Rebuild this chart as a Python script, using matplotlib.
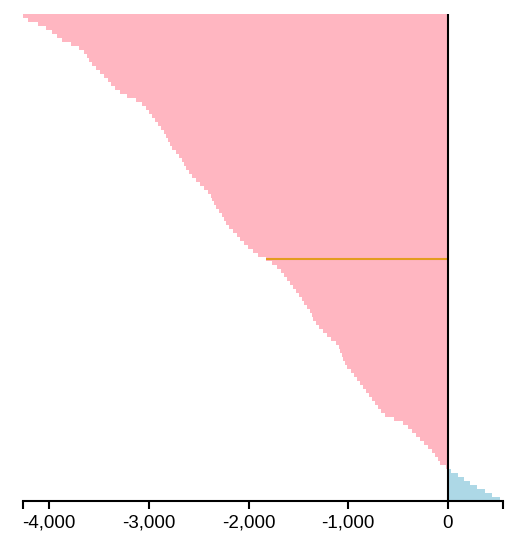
import matplotlib
matplotlib.use("Agg")
import matplotlib.pyplot as plt

values = [-4272,-4212,-4111,-4032,-3972,-3921,-3871,-3781,-3700,-3650,-3621,-3600,-3570,-3530,-3489,-3450,
-3409,-3379,-3340,-3289,-3219,-3128,-3068,-3028,-2998,-2968,-2937,-2908,-2877,-2848,-2827,-2807,-2787,-2767,
-2727,-2697,-2667,-2646,-2627,-2596,-2566,-2526,-2486,-2446,-2406,-2375,-2365,-2346,-2325,-2295,-2265,-2245,
-2225,-2195,-2154,-2115,-2084,-2044,-2004,-1954,-1904,-1824,-1763,-1714,-1673,-1643,-1613,-1583,-1553,-1522,
-1493,-1462,-1442,-1412,-1382,-1362,-1352,-1322,-1292,-1251,-1212,-1171,-1121,-1090,-1081,-1061,-1051,-1030,
-1011,-970,-941,-910,-880,-850,-820,-790,-759,-730,-699,-669,-629,-538,-449,-398,-358,-318,-278,-238,-197,
-158,-127,-98,-77,-20,30,100,160,220,290,370,440,520]
highlight_index = 61
xticks = [-4000, -3000, -2000, -1000, 0]
xticklabels = ["-4,000", "-3,000", "-2,000", "-1,000", "0"]
x_min, x_max = -4261, 552

W, H = 531, 556
fig = plt.figure(figsize=(W/100, H/100), dpi=100)
ax = fig.add_axes([23.3/W, 1-500.7/H, (502.7-23.3)/W, (500.7-14)/H])
n = len(values)
ys = list(range(n))
colors = ["#ffb6c1" if v < 0 else "#add8e6" for v in values]
ax.barh(ys, values, height=1.0, color=colors, linewidth=0)
ax.plot([values[highlight_index], 0], [highlight_index, highlight_index], color="#e39c1f", lw=1.5, solid_capstyle="butt")
ax.set_xlim(x_min, x_max)
ax.set_ylim(n-0.5, -0.5)
ax.axvline(0, color="black", lw=1.5)
for s in ["top", "right", "left"]:
    ax.spines[s].set_visible(False)
ax.spines["bottom"].set_linewidth(1.5)
ax.set_yticks([])
ax.set_xticks(xticks + [x_min, x_max])
ax.set_xticklabels(xticklabels + ["", ""], fontsize=13.5, family="Liberation Sans")
ax.tick_params(axis="x", length=6, width=1.5, direction="out", pad=4)
fig.savefig("out.png", dpi=100)
